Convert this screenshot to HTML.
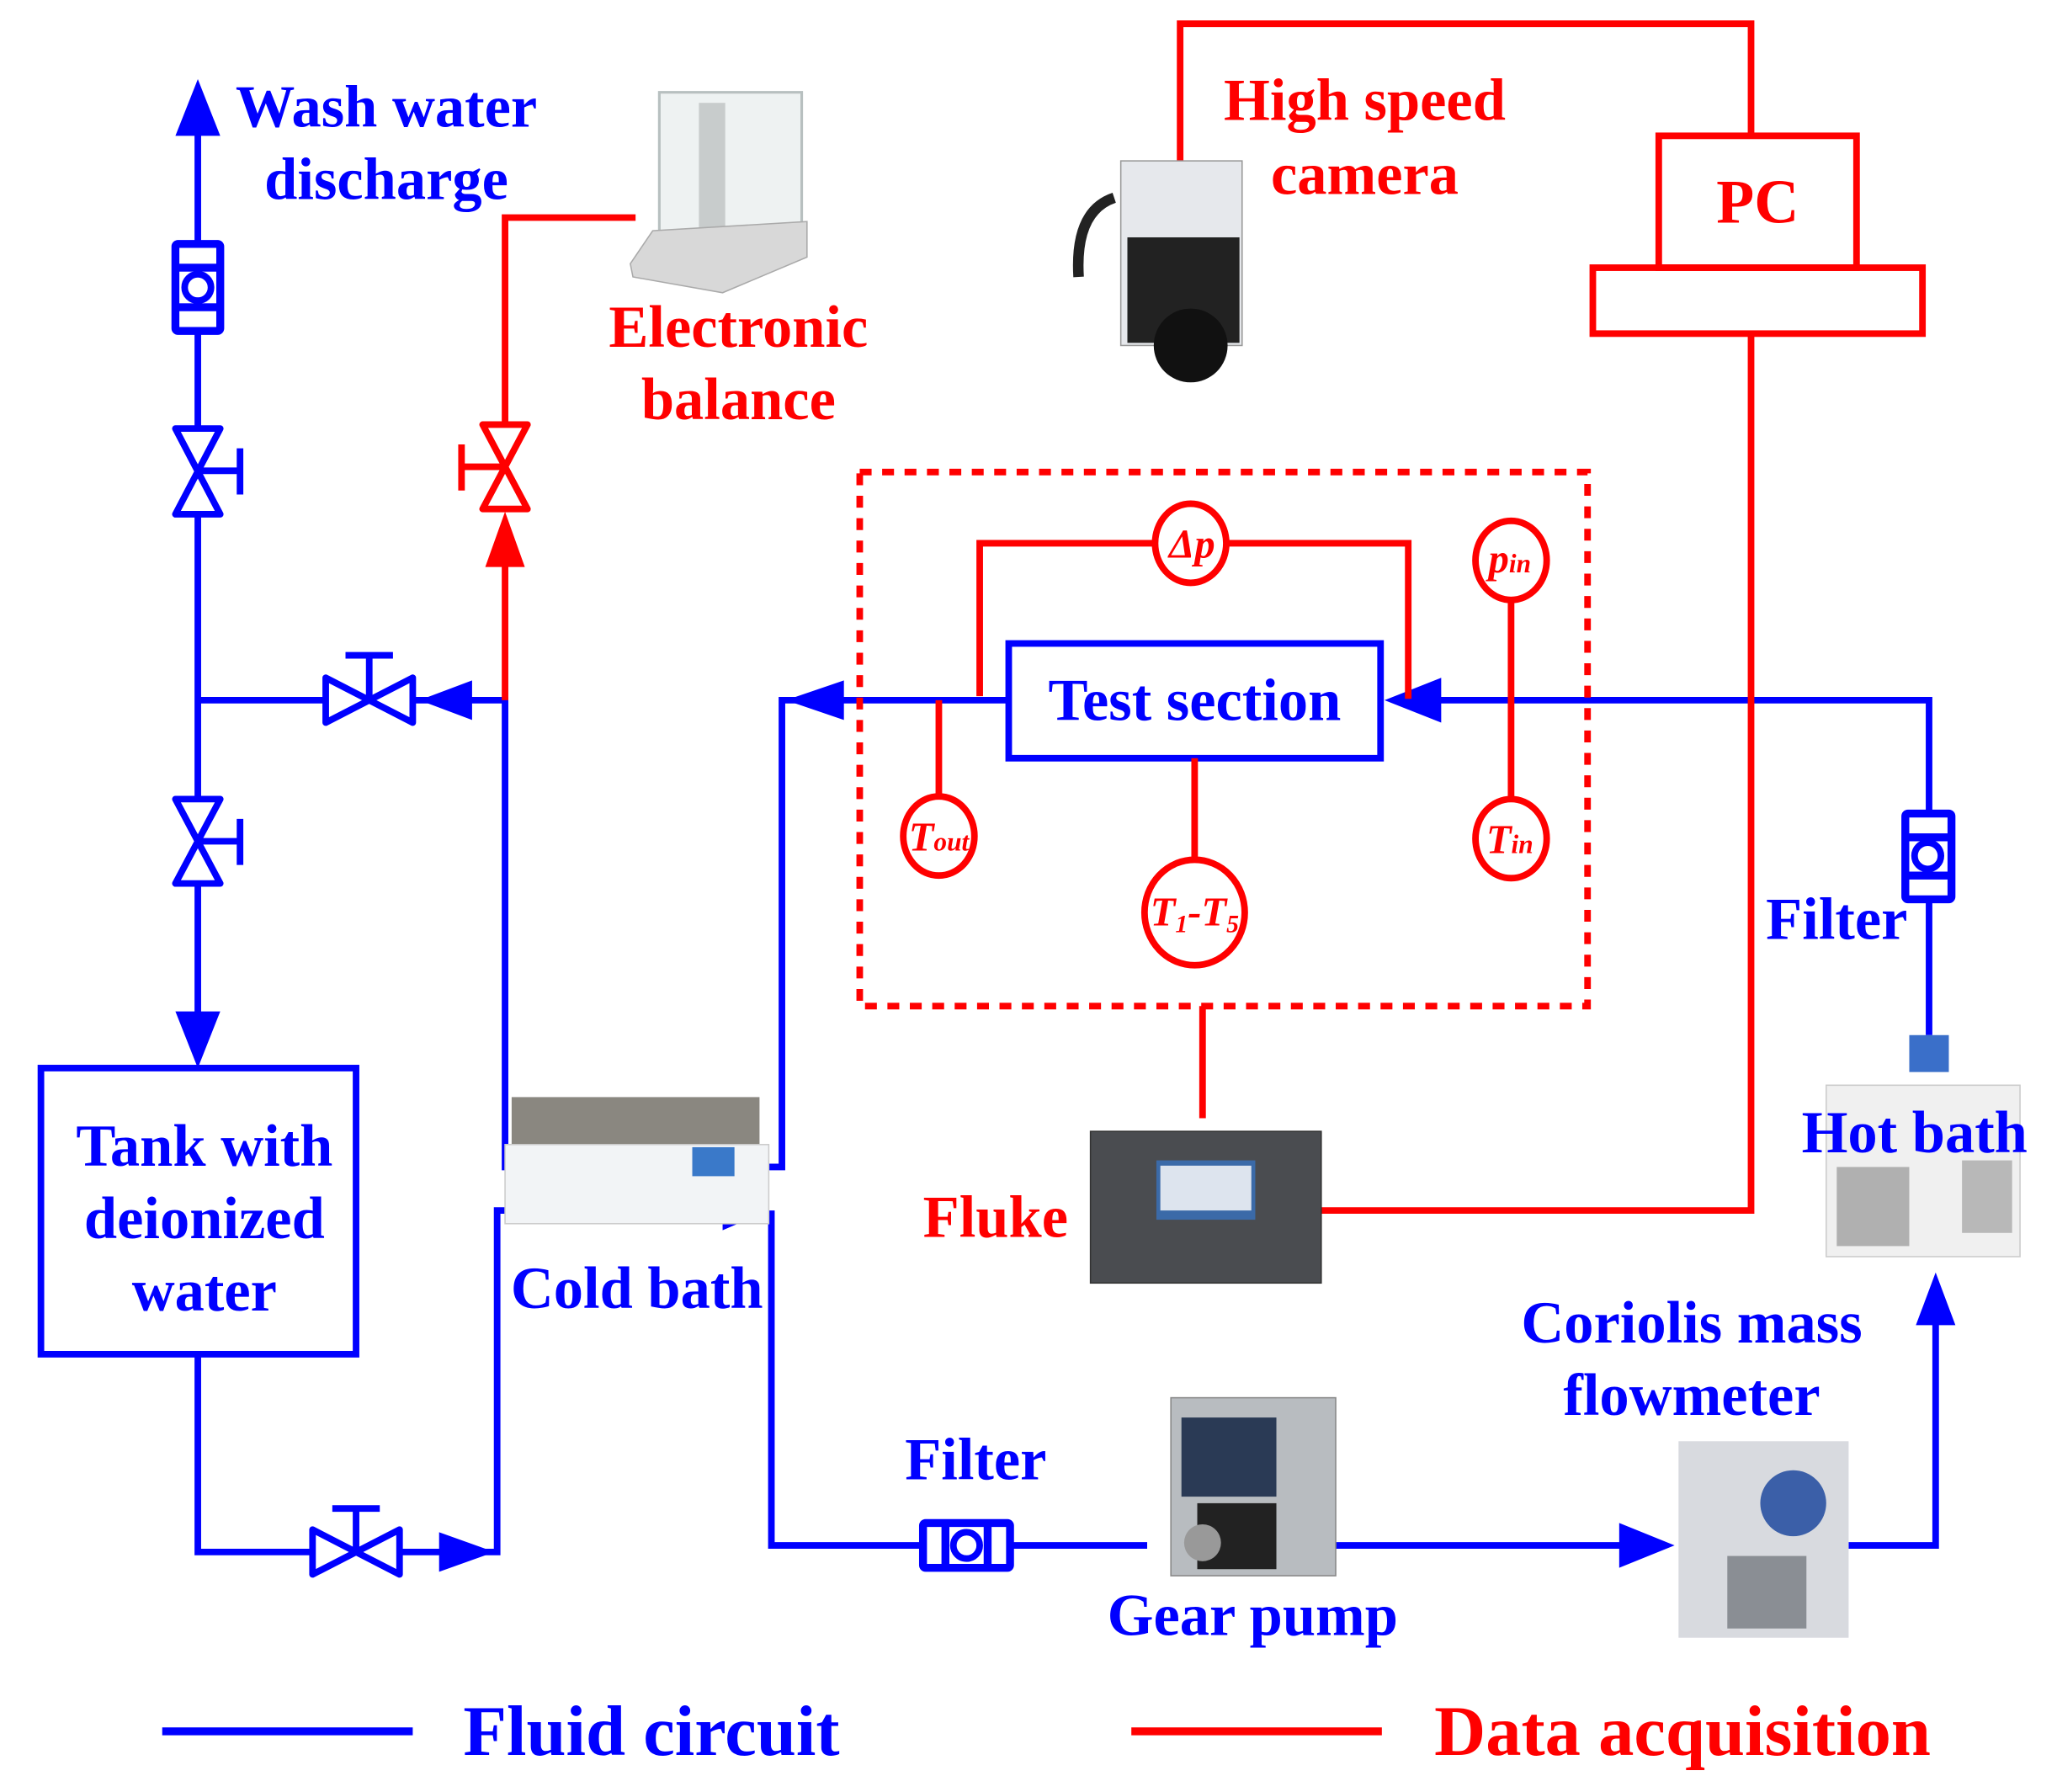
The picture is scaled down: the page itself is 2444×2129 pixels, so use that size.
<!DOCTYPE html>
<html><head><meta charset="utf-8"><style>
html,body{margin:0;padding:0;background:#fff;}
svg{display:block;}
text{font-family:"Liberation Serif",serif;font-weight:bold;}
</style></head><body>
<svg width="2444" height="2129" viewBox="0 0 1560 1359" xmlns="http://www.w3.org/2000/svg">
<rect width="1560" height="1359" fill="#fff"/>
<g fill="none" stroke="#0000ff" stroke-width="5" stroke-linejoin="miter">
  <path d="M150 95 V790"/>
  <path d="M150 531 H245"/>
  <path d="M315 531 H383 V885 H593 V531 H765"/>
  <path d="M150 1027 V1177 H235"/>
  <path d="M305 1177 H377 V918 H560"/>
  <path d="M585 918 V1172 H698"/>
  <path d="M768 1172 H870"/>
  <path d="M940 1172 H1235"/>
  <path d="M1402 1172 H1468 V1000"/>
  <path d="M1463 785 V683"/>
  <path d="M1463 615 V531 H1090"/>
  <rect x="31" y="810" width="239" height="217"/>
  <rect x="765" y="488" width="282" height="87"/>
</g>
<g fill="#0000ff">
  <polygon points="150,60 133,103 167,103"/>
  <polygon points="150,810 133,767 167,767"/>
  <polygon points="318,531 358,516 358,546"/>
  <polygon points="385,885 420,870 420,900"/>
  <polygon points="596,531 640,516 640,546"/>
  <polygon points="1050,531 1093,514 1093,548"/>
  <polygon points="375,1177 333,1162 333,1192"/>
  <polygon points="583,918 548,903 548,933"/>
  <polygon points="1270,1172 1228,1155 1228,1189"/>
  <polygon points="1468,965 1453,1005 1483,1005"/>
</g>
<g fill="#fff" stroke="#0000ff" stroke-width="6">
  <rect x="133" y="185" width="34" height="66" rx="2"/>
  <rect x="1445" y="617" width="35" height="65" rx="2"/>
  <rect x="700" y="1155" width="66" height="34" rx="2"/>
</g>
<g fill="#0000ff">
  <rect x="133" y="200" width="34" height="6"/><rect x="133" y="230" width="34" height="6"/>
  <rect x="1445" y="632" width="35" height="6"/><rect x="1445" y="661" width="35" height="6"/>
  <rect x="714" y="1155" width="6" height="34"/><rect x="746" y="1155" width="6" height="34"/>
</g>
<g fill="#fff" stroke="#0000ff" stroke-width="5">
  <circle cx="150" cy="218" r="10"/><circle cx="1462" cy="649" r="10"/><circle cx="733" cy="1172" r="10"/>
  <polygon points="133,325 167,325 133,390 167,390" stroke-linejoin="round"/>
  <path d="M150 357 H180 M182 340 V375"/>
  <polygon points="133,606 167,606 133,670 167,670" stroke-linejoin="round"/>
  <path d="M150 638 H180 M182 621 V656"/>
  <polygon points="247,514 247,548 313,514 313,548" stroke-linejoin="round"/>
  <path d="M280 531 V499 M262 497 H298"/>
  <polygon points="237,1160 237,1194 303,1160 303,1194" stroke-linejoin="round"/>
  <path d="M270 1177 V1146 M252 1144 H288"/>
</g>
<g fill="none" stroke="#ff0000" stroke-width="5">
  <path d="M383 531 V420"/>
  <path d="M383 322 V165 H482"/>
  <path d="M1328 255 V918 H1002"/>
  <path d="M1328 103 V18 H895 V125"/>
  <rect x="1258" y="103" width="150" height="100"/>
  <rect x="1208" y="203" width="250" height="50"/>
  <path d="M743 528 V412 H1068 V530"/>
  <path d="M712 531 V606"/>
  <path d="M906 575 V652"/>
  <path d="M1146 453 V608"/>
  <path d="M912 763 V848"/>
  <rect x="652" y="358" width="552" height="405" stroke-dasharray="9 8"/>
</g>
<polygon points="383,388 368,430 398,430" fill="#ff0000"/>
<g fill="#fff" stroke="#ff0000" stroke-width="5">
  <polygon points="366,322 400,322 366,386 400,386" stroke-linejoin="round"/>
  <path d="M383 354 H352 M350 337 V372"/>
  <ellipse cx="903" cy="412" rx="27" ry="30"/>
  <ellipse cx="1146" cy="425" rx="27" ry="30"/>
  <ellipse cx="712" cy="634" rx="27" ry="30"/>
  <ellipse cx="1146" cy="636" rx="27" ry="30"/>
  <ellipse cx="906" cy="692" rx="38" ry="40"/>
</g>
<g fill="#ff0000" font-style="italic" font-size="31" text-anchor="middle">
  <text x="904" y="423">Δp</text>
  <text x="1145" y="434">p<tspan font-size="20">in</tspan></text>
  <text x="712" y="645">T<tspan font-size="20">out</tspan></text>
  <text x="1145" y="647">T<tspan font-size="20">in</tspan></text>
  <text x="906" y="702">T<tspan font-size="19" dy="5">1</tspan><tspan dy="-5">-T</tspan><tspan font-size="19" dy="5">5</tspan></text>
</g>
<g>
  <rect x="500" y="70" width="108" height="110" fill="#eef2f2" stroke="#b8c0c0" stroke-width="2"/>
  <rect x="530" y="78" width="20" height="100" fill="#c8cccc"/>
  <polygon points="478,200 495,175 612,168 612,195 548,222 480,210" fill="#d8d8d8" stroke="#aaa"/>
  <rect x="850" y="122" width="92" height="140" fill="#e6e8ec" stroke="#999"/>
  <rect x="855" y="180" width="85" height="80" fill="#222"/>
  <circle cx="903" cy="262" r="28" fill="#111"/>
  <path d="M845 150 Q815 160 818 210" stroke="#222" stroke-width="8" fill="none"/>
  <rect x="827" y="858" width="175" height="115" fill="#4a4c50" stroke="#333"/>
  <rect x="877" y="880" width="75" height="45" fill="#3b6aa8"/>
  <rect x="880" y="884" width="69" height="34" fill="#dde4ee"/>
  <rect x="388" y="832" width="188" height="40" fill="#8a8780"/>
  <rect x="383" y="868" width="200" height="60" fill="#f2f4f6" stroke="#ccc"/>
  <rect x="525" y="870" width="32" height="22" fill="#3a79c9"/>
  <rect x="1385" y="823" width="147" height="130" fill="#f0f0f0" stroke="#ccc"/>
  <rect x="1393" y="885" width="55" height="60" fill="#b0b0b0"/>
  <rect x="1488" y="880" width="38" height="55" fill="#b8b8b8"/>
  <rect x="1448" y="785" width="30" height="28" fill="#3a6fc9"/>
  <rect x="888" y="1060" width="125" height="135" fill="#b8bcc0" stroke="#888"/>
  <rect x="896" y="1075" width="72" height="60" fill="#2a3a55"/>
  <rect x="908" y="1140" width="60" height="50" fill="#222"/>
  <circle cx="912" cy="1170" r="14" fill="#999"/>
  <rect x="1273" y="1093" width="129" height="149" fill="#d8dadf"/>
  <circle cx="1360" cy="1140" r="25" fill="#3b5fa8"/>
  <rect x="1310" y="1180" width="60" height="55" fill="#8a8e94"/>
</g>
<g fill="#0000ff" font-size="45" text-anchor="middle">
  <text x="293" y="96">Wash water</text>
  <text x="293" y="151">discharge</text>
  <text x="155" y="884">Tank with</text>
  <text x="155" y="939">deionized</text>
  <text x="155" y="994">water</text>
  <text x="906" y="546">Test section</text>
  <text x="1393" y="712">Filter</text>
  <text x="1452" y="874">Hot bath</text>
  <text x="483" y="992">Cold bath</text>
  <text x="740" y="1122">Filter</text>
  <text x="1283" y="1018">Coriolis mass</text>
  <text x="1283" y="1073">flowmeter</text>
  <text x="950" y="1240">Gear pump</text>
  <text x="494" y="1331" font-size="54">Fluid circuit</text>
</g>
<g fill="#ff0000" font-size="45" text-anchor="middle">
  <text x="560" y="263">Electronic</text>
  <text x="560" y="318">balance</text>
  <text x="1035" y="91">High speed</text>
  <text x="1035" y="147">camera</text>
  <text x="1333" y="169" font-size="47">PC</text>
  <text x="755" y="938">Fluke</text>
  <text x="1276" y="1331" font-size="54">Data acquisition</text>
</g>
<path d="M123 1313 H313" stroke="#0000ff" stroke-width="6"/>
<path d="M858 1313 H1048" stroke="#ff0000" stroke-width="6"/>
</svg>
</body></html>
